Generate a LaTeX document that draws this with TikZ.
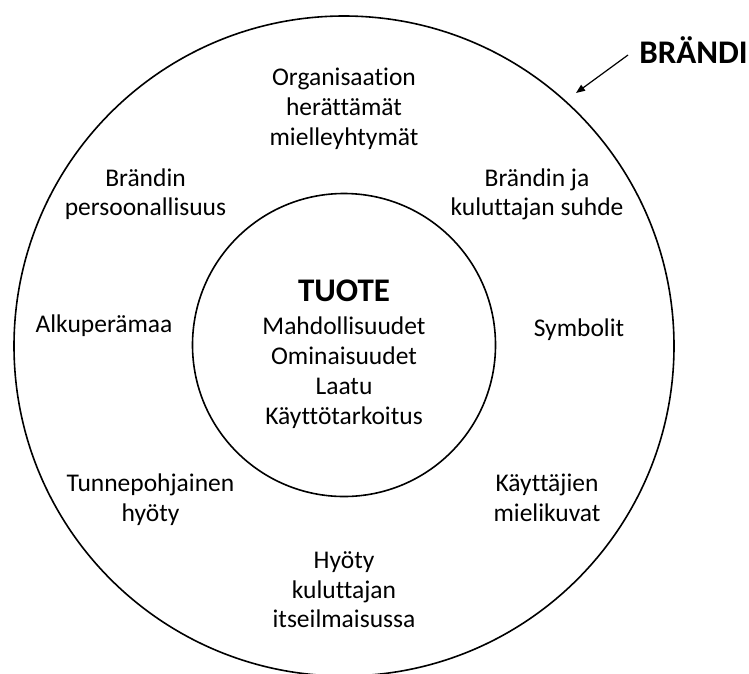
\documentclass[tikz,border=0pt]{standalone}
\usepackage{fontspec}
\setmainfont{Carlito}[Ligatures=NoCommon]
\usetikzlibrary{arrows.meta}
\begin{document}
\begin{tikzpicture}[x=1pt,y=-1pt,
  ring/.style={draw=black, line width=1.6pt, circle, inner sep=0pt, minimum size=#1},
  lbl/.style={align=center, anchor=base, inner sep=0pt, font=\fontsize{25.5}{29.7}\selectfont},
  head/.style={align=center, anchor=base, inner sep=0pt, font=\fontsize{33}{36}\selectfont\bfseries},
  pointer/.style={-{Triangle[length=9pt,width=7pt]}, line width=1.2pt},
]
\useasboundingbox (0,0) rectangle (749,673);
\node[ring=660pt] (outer) at (344,346) {};
\node[ring=303pt] (inner) at (344,345) {};

% multi-line nodes are anchored at the baseline of their last line
\node[head] (tuote) at (344,301.7) {TUOTE};
\node[lbl] (props) at (344,424) {Mahdollisuudet\\Ominaisuudet\\Laatu\\Käyttötarkoitus};

\node[lbl] (org) at (344,145) {Organisaation\\herättämät\\mielleyhtymät};
\node[lbl] (pers) at (145.5,215.8) {Brändin\\persoonallisuus};
\node[lbl] (suhde) at (537,215.8) {Brändin ja\\kuluttajan suhde};
\node[lbl] (alku) at (104,332.7) {Alkuperämaa};
\node[lbl] (symb) at (579,336.7) {Symbolit};
\node[lbl] (tunne) at (150.5,521.5) {Tunnepohjainen\\hyöty};
\node[lbl] (kayt) at (547,521.5) {Käyttäjien\\mielikuvat};
\node[lbl] (hyoty) at (344,627.7) {Hyöty\\kuluttajan\\itseilmaisussa};

\node[head] (brandi) at (693.5,63.3) {BRÄNDI};
\coordinate (tail) at (628,55);
\coordinate (tip) at (576,93);
\draw[pointer] (tail) -- (tip);
\end{tikzpicture}
\end{document}
